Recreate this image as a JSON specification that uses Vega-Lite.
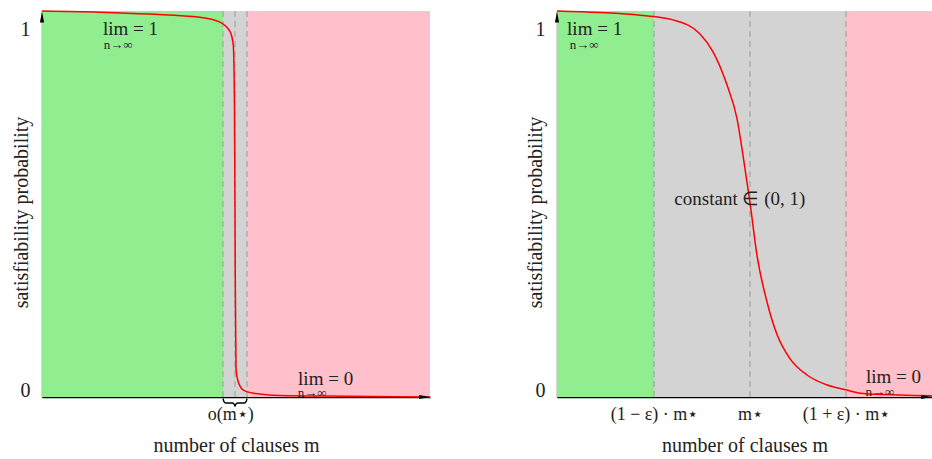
{
  "$schema": "https://vega.github.io/schema/vega-lite/v6.json",
  "padding": {"left": 11, "top": 8, "right": 0, "bottom": 0},
  "spacing": 127,
  "bounds": "flush",
  "config": {
    "view": {"stroke": null},
    "font": "Liberation Serif",
    "axis": {
      "domainColor": "black", "domainWidth": 1.3, "ticks": false, "grid": false,
      "labelFont": "Liberation Serif", "titleFont": "Liberation Serif",
      "labelColor": "#222", "titleColor": "#222", "titleFontWeight": "normal",
      "labelFontSize": 20, "titleFontSize": 20, "zindex": 1, "labelOverlap": false, "labelFlush": false
    },
    "text": {"font": "Liberation Serif", "color": "#222"}
  },
  "datasets": {
    "leftRegions": [
      {"x": 0, "x2": 4.665, "zone": "sat"},
      {"x": 4.665, "x2": 5.284, "zone": "threshold"},
      {"x": 5.284, "x2": 10, "zone": "unsat"}
    ],
    "rightRegions": [
      {"x": 0, "x2": 2.499, "zone": "sat"},
      {"x": 2.499, "x2": 7.445, "zone": "threshold"},
      {"x": 7.445, "x2": 9.66, "zone": "unsat"}
    ],
    "leftDashes": [{"x": 4.665}, {"x": 4.974}, {"x": 5.284}],
    "rightDashes": [{"x": 2.499}, {"x": 4.97}, {"x": 7.445}],
    "leftCurve": [
      {"x": 0, "y": 1.0}, {"x": 1.49, "y": 0.997}, {"x": 2.78, "y": 0.992}, {"x": 4.07, "y": 0.984},
      {"x": 4.59, "y": 0.971}, {"x": 4.85, "y": 0.946}, {"x": 4.93, "y": 0.912}, {"x": 4.96, "y": 0.764},
      {"x": 4.98, "y": 0.332}, {"x": 5.0, "y": 0.073}, {"x": 5.06, "y": 0.039}, {"x": 5.19, "y": 0.018},
      {"x": 5.44, "y": 0.01}, {"x": 6.13, "y": 0.004}, {"x": 7.94, "y": 0.002}, {"x": 10, "y": 0.0}
    ],
    "rightCurve": [
      {"x": 0, "y": 1.0}, {"x": 1.11, "y": 0.996}, {"x": 2.14, "y": 0.989}, {"x": 2.99, "y": 0.977},
      {"x": 3.69, "y": 0.94}, {"x": 4.02, "y": 0.894}, {"x": 4.38, "y": 0.808}, {"x": 4.64, "y": 0.72},
      {"x": 4.79, "y": 0.627}, {"x": 4.97, "y": 0.505}, {"x": 5.15, "y": 0.368}, {"x": 5.41, "y": 0.246},
      {"x": 5.67, "y": 0.161}, {"x": 6.01, "y": 0.098}, {"x": 6.44, "y": 0.057}, {"x": 6.96, "y": 0.031},
      {"x": 7.47, "y": 0.018}, {"x": 7.81, "y": 0.01}, {"x": 8.84, "y": 0.005}, {"x": 9.66, "y": 0.003}
    ],
    "leftLim": [
      {"x": 1.57, "y": 0.954, "t": "lim = 1"},
      {"x": 6.6, "y": 0.0466, "t": "lim = 0"}
    ],
    "leftSub": [
      {"x": 1.96, "y": 0.9132, "t": "n→∞"},
      {"x": 6.96, "y": 0.0104, "t": "n→∞"}
    ],
    "rightLim": [
      {"x": 0.26, "y": 0.954, "t": "lim = 1"},
      {"x": 7.96, "y": 0.0518, "t": "lim = 0"}
    ],
    "rightNote": [
      {"x": 4.71, "y": 0.513, "t": "constant ∈ (0, 1)"}
    ],
    "rightSub": [
      {"x": 0.7, "y": 0.9132, "t": "n→∞"},
      {"x": 8.32, "y": 0.013, "t": "n→∞"}
    ],
    "brace": [
      {"x": 4.665, "y": -0.004}, {"x": 4.69, "y": -0.012}, {"x": 4.73, "y": -0.0155}, {"x": 4.9, "y": -0.0155},
      {"x": 4.95, "y": -0.018}, {"x": 4.974, "y": -0.024}, {"x": 5.0, "y": -0.018}, {"x": 5.05, "y": -0.0155},
      {"x": 5.22, "y": -0.0155}, {"x": 5.26, "y": -0.012}, {"x": 5.284, "y": -0.004}
    ],
    "leftUp": [{"x": 0, "y": 0.9845}],
    "leftRight": [{"x": 9.86, "y": 0}],
    "rightUp": [{"x": 0, "y": 0.9845}],
    "rightRight": [{"x": 9.52, "y": 0}]
  },
  "hconcat": [
    {
      "width": 388,
      "height": 386,
      "layer": [
        {
          "data": {"name": "leftRegions"},
          "mark": {"type": "rect"},
          "encoding": {
            "x": {"field": "x", "type": "quantitative", "scale": {"domain": [0, 10], "nice": false, "zero": false},
                  "axis": {"values": [4.85], "labelExpr": "'o(m⋆)'", "labelFontSize": 18, "labelPadding": 8,
                           "title": "number of clauses m", "titleBaseline": "middle", "titleY": 48}},
            "x2": {"field": "x2"},
            "y": {"datum": 0, "type": "quantitative", "scale": {"domain": [0, 1], "nice": false, "zero": false},
                  "axis": {"values": [0.018, 0.953], "labelExpr": "datum.value > 0.5 ? '1' : '0'", "labelPadding": 12,
                           "title": "satisfiability probability", "titleX": -21, "titleY": 201, "titleBaseline": "middle", "titleAlign": "center", "titleAngle": -90}},
            "y2": {"datum": 1},
            "color": {"field": "zone", "type": "nominal", "legend": null,
                      "scale": {"domain": ["sat", "threshold", "unsat"], "range": ["#90EE90", "#D3D3D3", "#FFC0CB"]}}
          }
        },
        {
          "data": {"name": "leftDashes"},
          "mark": {"type": "rule", "color": "#9a9a9a", "strokeDash": [6, 4], "strokeWidth": 1},
          "encoding": {"x": {"field": "x", "type": "quantitative"}}
        },
        {
          "data": {"name": "leftCurve"},
          "mark": {"type": "line", "color": "red", "strokeWidth": 1.5, "interpolate": "monotone"},
          "encoding": {"x": {"field": "x", "type": "quantitative"}, "y": {"field": "y", "type": "quantitative"}}
        },
        {
          "data": {"name": "leftLim"},
          "mark": {"type": "text", "align": "left", "baseline": "middle", "fontSize": 19},
          "encoding": {"x": {"field": "x", "type": "quantitative"}, "y": {"field": "y", "type": "quantitative"}, "text": {"field": "t"}}
        },
        {
          "data": {"name": "leftSub"},
          "mark": {"type": "text", "align": "center", "baseline": "middle", "fontSize": 13},
          "encoding": {"x": {"field": "x", "type": "quantitative"}, "y": {"field": "y", "type": "quantitative"}, "text": {"field": "t"}}
        },
        {
          "data": {"name": "brace"},
          "mark": {"type": "line", "color": "black", "strokeWidth": 1.4, "interpolate": "monotone"},
          "encoding": {"x": {"field": "x", "type": "quantitative"}, "y": {"field": "y", "type": "quantitative"}}
        },
        {
          "data": {"name": "leftUp"},
          "mark": {"type": "point", "shape": "M0,-1L-0.38,1L0.38,1Z", "filled": true, "color": "black", "opacity": 1, "size": 121},
          "encoding": {"x": {"field": "x", "type": "quantitative"}, "y": {"field": "y", "type": "quantitative"}}
        },
        {
          "data": {"name": "leftRight"},
          "mark": {"type": "point", "shape": "M1,0L-1,-0.38L-1,0.38Z", "filled": true, "color": "black", "opacity": 1, "size": 121},
          "encoding": {"x": {"field": "x", "type": "quantitative"}, "y": {"field": "y", "type": "quantitative"}}
        }
      ]
    },
    {
      "width": 375,
      "height": 386,
      "layer": [
        {
          "data": {"name": "rightRegions"},
          "mark": {"type": "rect"},
          "encoding": {
            "x": {"field": "x", "type": "quantitative", "scale": {"domain": [0, 9.66], "nice": false, "zero": false},
                  "axis": {"values": [2.499, 4.97, 7.445],
                           "labelExpr": "datum.value < 3 ? '(1 − ε) · m⋆' : (datum.value < 6 ? 'm⋆' : '(1 + ε) · m⋆')",
                           "labelFontSize": 18, "labelPadding": 8,
                           "title": "number of clauses m", "titleBaseline": "middle", "titleY": 48}},
            "x2": {"field": "x2"},
            "y": {"datum": 0, "type": "quantitative", "scale": {"domain": [0, 1], "nice": false, "zero": false},
                  "axis": {"values": [0.018, 0.953], "labelExpr": "datum.value > 0.5 ? '1' : '0'", "labelPadding": 12,
                           "title": "satisfiability probability", "titleX": -22, "titleY": 201, "titleBaseline": "middle", "titleAlign": "center", "titleAngle": -90}},
            "y2": {"datum": 1},
            "color": {"field": "zone", "type": "nominal", "legend": null,
                      "scale": {"domain": ["sat", "threshold", "unsat"], "range": ["#90EE90", "#D3D3D3", "#FFC0CB"]}}
          }
        },
        {
          "data": {"name": "rightDashes"},
          "mark": {"type": "rule", "color": "#9a9a9a", "strokeDash": [6, 4], "strokeWidth": 1},
          "encoding": {"x": {"field": "x", "type": "quantitative"}}
        },
        {
          "data": {"name": "rightCurve"},
          "mark": {"type": "line", "color": "red", "strokeWidth": 1.5, "interpolate": "monotone"},
          "encoding": {"x": {"field": "x", "type": "quantitative"}, "y": {"field": "y", "type": "quantitative"}}
        },
        {
          "data": {"name": "rightLim"},
          "mark": {"type": "text", "align": "left", "baseline": "middle", "fontSize": 19},
          "encoding": {"x": {"field": "x", "type": "quantitative"}, "y": {"field": "y", "type": "quantitative"}, "text": {"field": "t"}}
        },
        {
          "data": {"name": "rightNote"},
          "mark": {"type": "text", "align": "center", "baseline": "middle", "fontSize": 19},
          "encoding": {"x": {"field": "x", "type": "quantitative"}, "y": {"field": "y", "type": "quantitative"}, "text": {"field": "t"}}
        },
        {
          "data": {"name": "rightSub"},
          "mark": {"type": "text", "align": "center", "baseline": "middle", "fontSize": 13},
          "encoding": {"x": {"field": "x", "type": "quantitative"}, "y": {"field": "y", "type": "quantitative"}, "text": {"field": "t"}}
        },
        {
          "data": {"name": "rightUp"},
          "mark": {"type": "point", "shape": "M0,-1L-0.38,1L0.38,1Z", "filled": true, "color": "black", "opacity": 1, "size": 121},
          "encoding": {"x": {"field": "x", "type": "quantitative"}, "y": {"field": "y", "type": "quantitative"}}
        },
        {
          "data": {"name": "rightRight"},
          "mark": {"type": "point", "shape": "M1,0L-1,-0.38L-1,0.38Z", "filled": true, "color": "black", "opacity": 1, "size": 121},
          "encoding": {"x": {"field": "x", "type": "quantitative"}, "y": {"field": "y", "type": "quantitative"}}
        }
      ]
    }
  ]
}
